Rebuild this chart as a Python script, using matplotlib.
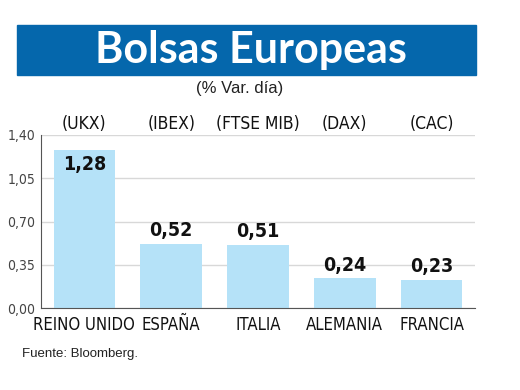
import matplotlib
matplotlib.use("Agg")
from matplotlib import pyplot as plt
from matplotlib.patches import Rectangle
from matplotlib import font_manager

paises = ["REINO UNIDO", "ESPAÑA", "ITALIA", "ALEMANIA", "FRANCIA"]
indices = ["(UKX)", "(IBEX)", "(FTSE MIB)", "(DAX)", "(CAC)"]
variacion = [1.28, 0.52, 0.51, 0.24, 0.23]
yticks = [0.00, 0.35, 0.70, 1.05, 1.40]

# look for a condensed face, else fall back to Roboto
cond = [f for f in font_manager.fontManager.ttflist
        if "condensed" in str(f.stretch) or "narrow" in f.name.lower()
        or "condensed" in f.name.lower() or "condensed" in f.fname.lower()]
cond = [f for f in cond if f.style == "normal" and "extra" not in str(f.stretch)]
reg = [f for f in cond if f.weight in (400, "normal", "regular")]
bold = [f for f in cond if f.weight in (700, "bold")]
if reg:
    fp_reg = font_manager.FontProperties(fname=reg[0].fname)
    fp_bold = font_manager.FontProperties(fname=bold[0].fname) if bold else \
        font_manager.FontProperties(fname=reg[0].fname, weight="bold")
else:
    fp_reg = font_manager.FontProperties(family="Roboto")
    fp_bold = font_manager.FontProperties(family="Roboto", weight="bold")

fig = plt.figure(figsize=(5.2, 3.9), dpi=100)

# title box
fig.patches.append(Rectangle((17/520, 1-75/390), 459/520, 50/390,
                             transform=fig.transFigure, color="#0567ac", zorder=0))
fig.text(251/520, 1-50/390, "Bolsas Europeas", color="white", fontsize=31,
         fontweight="bold", family="Lato", ha="center", va="center")
fig.text(240/520, 1-88/390, "(% Var. día)", color="#222222", fontsize=12,
         family="Liberation Sans", ha="center", va="center")

ax = fig.add_axes([41/520, 1-308/390, 434/520, 173/390])
x = range(len(paises))
ax.bar(x, variacion, width=0.71, color="#b5e2f8", zorder=2)
ax.set_xlim(-0.5, 4.5)
ax.set_ylim(0, 1.40)
ax.set_yticks(yticks)
ax.set_yticklabels([("%.2f" % v).replace(".", ",") for v in yticks],
                   fontproperties=fp_reg, fontsize=10, color="#444444")
ax.yaxis.grid(True, color="#d8d8d8", lw=1, zorder=0)
ax.tick_params(length=0, pad=4)
ax.set_xticks(list(x))
ax.set_xticklabels(paises, fontproperties=fp_reg, fontsize=12, color="#111111")
ax.tick_params(axis="x", pad=6)
for s in ["top", "right"]:
    ax.spines[s].set_visible(False)
ax.spines["left"].set_color("#555555")
ax.spines["bottom"].set_color("#555555")

for i, v in enumerate(variacion):
    lab = ("%.2f" % v).replace(".", ",")
    if v > 1:
        ax.text(i, v - 0.04, lab, ha="center", va="top", fontsize=14,
                fontproperties=fp_bold, color="#111111")
    else:
        ax.text(i, v + 0.03, lab, ha="center", va="bottom", fontsize=14,
                fontproperties=fp_bold, color="#111111")
    ax.text(i, 1.49, indices[i], ha="center", va="center", fontsize=12.5,
            fontproperties=fp_reg, color="#111111", clip_on=False)

fig.text(22/520, 1-354/390, "Fuente: Bloomberg.", fontsize=9.5,
         family="Liberation Sans", color="#222222", va="center")

fig.savefig("out.png", dpi=100)
